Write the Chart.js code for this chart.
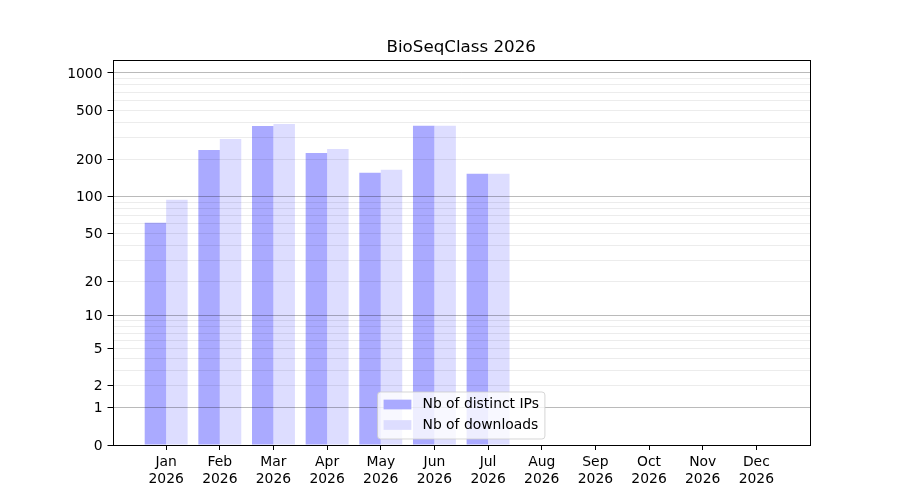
<!DOCTYPE html>
<html>
<head>
<meta charset="utf-8">
<script src="https://cdn.jsdelivr.net/npm/chart.js@4.4.1/dist/chart.umd.min.js"></script>
<style>
html,body{margin:0;padding:0;background:#fff;}
#wrap{width:900px;height:500px;}
</style>
</head>
<body>
<div id="wrap"><canvas id="c" width="900" height="500"></canvas></div>
<script>
// ---- data ----
const chartTitle = 'BioSeqClass 2026';
const months = ['Jan','Feb','Mar','Apr','May','Jun','Jul','Aug','Sep','Oct','Nov','Dec'];
const years = ['2026','2026','2026','2026','2026','2026','2026','2026','2026','2026','2026','2026'];
const seriesNames = ['Nb of distinct IPs', 'Nb of downloads'];
const distinctIPs = [61, 238, 373, 225, 156, 375, 153];
const downloads = [94, 293, 387, 243, 165, 375, 153];
const yTickValues = [0, 1, 2, 5, 10, 20, 50, 100, 200, 500, 1000];
const yMajorGrid = [1, 10, 100, 1000];
const yMinorGrid = [2,3,4,5,6,7,8,9,20,30,40,50,60,70,80,90,200,300,400,500,600,700,800,900];
const yMax = 1272;

// ---- log10(1+x) scale ----
const fwd = v => Math.log10(1 + Math.max(v, 0));
const inv = t => Math.pow(10, t) - 1;
class Log1pScale extends Chart.LinearScale {
  static id = 'log1p';
  static defaults = {};
  buildTicks() {
    this.start = this.min;
    this.end = this.max;
    return yTickValues.filter(v => v >= this.min && v <= this.max).map(v => ({value: v}));
  }
  configure() {
    super.configure();
    this._t0 = fwd(this.min);
    this._t1 = fwd(this.max);
  }
  getPixelForValue(v) {
    return this.getPixelForDecimal((fwd(v) - this._t0) / (this._t1 - this._t0));
  }
  getValueForPixel(p) {
    return inv(this._t0 + this.getDecimalForPixel(p) * (this._t1 - this._t0));
  }
}
Chart.register(Log1pScale);

const FONT = 'DejaVu Sans';
const FS = 13.9;

const overlay = {
  id: 'overlay',
  afterDatasetsDraw(chart) {
    const {ctx, chartArea: a, scales: {y}} = chart;
    ctx.save();
    ctx.beginPath();
    ctx.rect(a.left, a.top, a.right - a.left, a.bottom - a.top);
    ctx.clip();
    ctx.lineWidth = 1;
    const line = (v, color) => {
      const p = Math.floor(y.getPixelForValue(v)) + 0.5;
      ctx.strokeStyle = color;
      ctx.beginPath();
      ctx.moveTo(a.left, p);
      ctx.lineTo(a.right, p);
      ctx.stroke();
    };
    yMinorGrid.forEach(v => line(v, 'rgba(0,0,0,0.075)'));
    yMajorGrid.forEach(v => line(v, 'rgba(0,0,0,0.27)'));
    ctx.restore();

    // axes frame
    ctx.save();
    ctx.strokeStyle = '#000';
    ctx.lineWidth = 1;
    const l = Math.round(a.left) + 0.5, r = Math.round(a.right) + 0.5;
    const t = Math.round(a.top) + 0.5, b = Math.round(a.bottom) + 0.5;
    ctx.strokeRect(l, t, r - l, b - t);
    ctx.restore();
  },
  afterDraw(chart) {
    const {ctx, chartArea: a} = chart;
    ctx.save();
    // title
    ctx.fillStyle = '#000';
    ctx.font = `16.7px "${FONT}"`;
    ctx.textAlign = 'center';
    ctx.textBaseline = 'alphabetic';
    ctx.fillText(chartTitle, (a.left + a.right) / 2, 51.5);

    // legend (lower center, inside axes)
    ctx.font = `${FS}px "${FONT}"`;
    const ds = chart.data.datasets;
    const pad = 6, hLen = 27.8, hGap = 11.1, hH = 9.7, rowGap = 20.5;
    const tw = Math.max(...ds.map(d => ctx.measureText(d.label).width));
    const w = pad + hLen + hGap + tw + pad;
    const h = 47;
    const x0 = (a.left + a.right) / 2 - w / 2;
    const y1 = a.bottom - 6;
    const y0 = y1 - h;
    const rr = 3;
    ctx.beginPath();
    ctx.moveTo(x0 + rr, y0);
    ctx.lineTo(x0 + w - rr, y0);
    ctx.arcTo(x0 + w, y0, x0 + w, y0 + rr, rr);
    ctx.lineTo(x0 + w, y1 - rr);
    ctx.arcTo(x0 + w, y1, x0 + w - rr, y1, rr);
    ctx.lineTo(x0 + rr, y1);
    ctx.arcTo(x0, y1, x0, y1 - rr, rr);
    ctx.lineTo(x0, y0 + rr);
    ctx.arcTo(x0, y0, x0 + rr, y0, rr);
    ctx.closePath();
    ctx.fillStyle = 'rgba(255,255,255,0.8)';
    ctx.fill();
    ctx.strokeStyle = 'rgba(204,204,204,0.8)';
    ctx.lineWidth = 1;
    ctx.stroke();
    ds.forEach((d, i) => {
      const cy = y0 + 12.5 + i * rowGap;
      ctx.fillStyle = d.backgroundColor;
      ctx.fillRect(x0 + pad, cy - hH / 2, hLen, hH);
      ctx.fillStyle = '#000';
      ctx.textAlign = 'left';
      ctx.textBaseline = 'middle';
      ctx.fillText(d.label, x0 + pad + hLen + hGap, cy);
    });
    ctx.restore();
  }
};

new Chart(document.getElementById('c').getContext('2d'), {
  type: 'bar',
  data: {
    datasets: [
      {
        label: seriesNames[0],
        data: distinctIPs.map((v, i) => ({x: i, y: v})),
        backgroundColor: '#aaaaff',
        borderWidth: 0,
        categoryPercentage: 0.8,
        barPercentage: 1.0
      },
      {
        label: seriesNames[1],
        data: downloads.map((v, i) => ({x: i, y: v})),
        backgroundColor: '#ddddff',
        borderWidth: 0,
        categoryPercentage: 0.8,
        barPercentage: 1.0
      }
    ]
  },
  options: {
    responsive: false,
    animation: false,
    devicePixelRatio: 1,
    layout: {padding: {top: 60, right: 90, bottom: 0, left: 0}},
    plugins: {
      legend: {display: false},
      title: {display: false},
      tooltip: {enabled: false}
    },
    scales: {
      x: {
        type: 'linear',
        min: -1,
        max: 12,
        offset: false,
        afterBuildTicks: s => { s.ticks = months.map((m, i) => ({value: i})); },
        afterFit: s => { s.height = 55; },
        ticks: {
          autoSkip: false,
          maxRotation: 0,
          minRotation: 0,
          color: '#000',
          padding: 4,
          font: {family: FONT, size: FS, lineHeight: 1.2},
          callback: v => [months[v], years[v]]
        },
        grid: {drawOnChartArea: false, drawTicks: true, tickLength: 5, tickColor: '#000', tickWidth: 1, offset: false},
        border: {display: false}
      },
      y: {
        type: 'log1p',
        min: 0,
        max: yMax,
        afterFit: s => { s.width = 112.5; },
        ticks: {
          autoSkip: false,
          color: '#000',
          padding: 5,
          labelOffset: 1,
          font: {family: FONT, size: FS},
          callback: v => String(v)
        },
        grid: {drawOnChartArea: false, drawTicks: true, tickLength: 5, tickColor: '#000', tickWidth: 1},
        border: {display: false}
      }
    }
  },
  plugins: [overlay]
});
</script>
</body>
</html>
